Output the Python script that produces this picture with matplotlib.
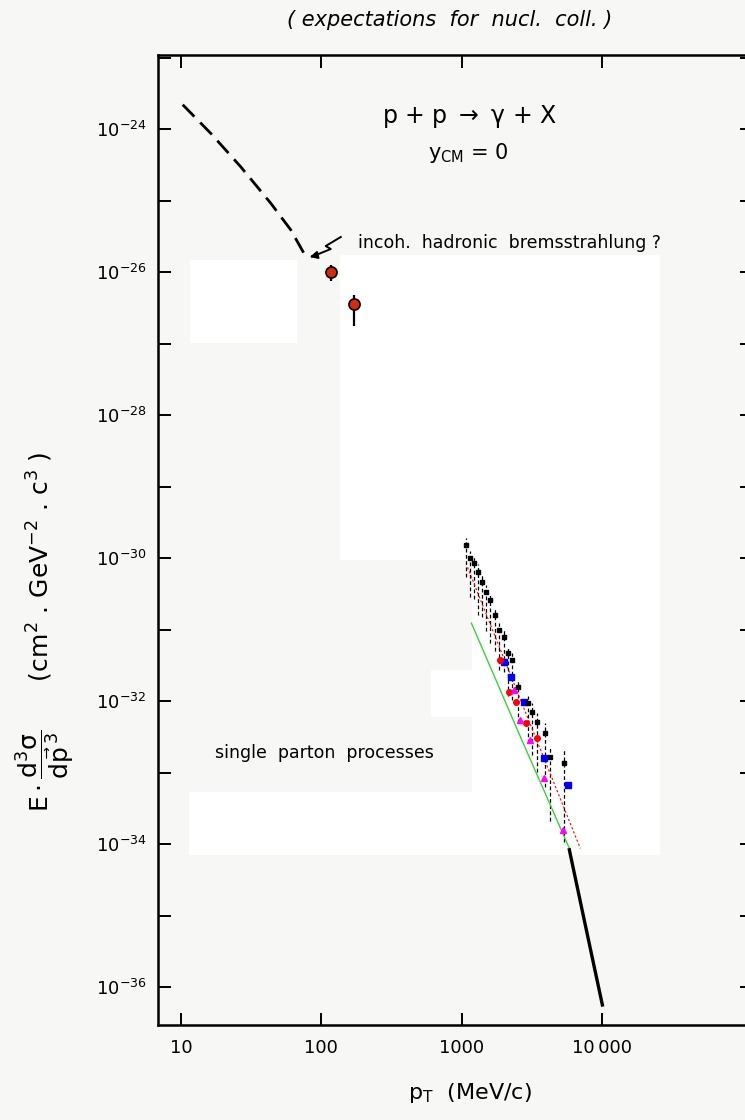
import numpy as np
import matplotlib
matplotlib.use("Agg")
import matplotlib.pyplot as plt
from matplotlib.patches import Rectangle

# ---- data ----
# incoherent hadronic bremsstrahlung expectation (dashed)
brems_pt = [10.3, 16.3, 26.7, 43.7, 60.5, 75.2]
brems_y = [10**-23.66, 10**-24.06, 10**-24.53, 10**-25.04, 10**-25.41, 10**-25.74]

# low pT measured points (red circles)
low_pt = [118, 172]
low_y = [10**-26.00, 10**-26.45]
low_err_lo = [10**-26.00 - 10**-26.12, 10**-26.45 - 10**-26.76]
low_err_hi = [10**-25.90 - 10**-26.00, 10**-26.32 - 10**-26.45]

# high pT data (overlaid points)
blk_pt = [1072, 1151, 1216, 1297, 1393, 1496, 1596, 1714, 1849, 1986,
          2118, 2291, 2495, 2938, 3177, 3428, 3881, 4217, 5297]
blk_y = [10**-29.82, 10**-30.00, 10**-30.07, 10**-30.19, 10**-30.33, 10**-30.47,
         10**-30.59, 10**-30.80, 10**-31.01, 10**-31.10, 10**-31.33, 10**-31.43,
         10**-31.80, 10**-32.03, 10**-32.15, 10**-32.29, 10**-32.45, 10**-32.78,
         10**-32.87]
blk_lo = [0.45, 0.55, 0.5, 0.6, 0.5, 0.55, 0.6, 0.5, 0.55, 0.5,
          0.6, 0.55, 0.5, 0.55, 0.6, 0.7, 0.75, 0.9, 1.1]   # decades
blk_hi = [0.1, 0.1, 0.1, 0.1, 0.1, 0.1, 0.1, 0.1, 0.1, 0.1,
          0.1, 0.1, 0.1, 0.1, 0.12, 0.12, 0.15, 0.15, 0.2]

blue_pt = [2009, 2254, 2754, 3819, 5662]
blue_y = [10**-31.46, 10**-31.66, 10**-32.01, 10**-32.79, 10**-33.17]
red_pt = [1879, 2178, 2427, 2851, 3428]
red_y = [10**-31.42, 10**-31.88, 10**-32.01, 10**-32.30, 10**-32.51]
mag_pt = [2339, 2612, 3041, 3819, 5248]
mag_y = [10**-31.85, 10**-32.26, 10**-32.54, 10**-33.08, 10**-33.80]

# theory lines
red_line_pt = [1097, 2760, 6970]
red_line_y = [10**-30.13, 10**-32.10, 10**-34.06]
green_line_pt = [1169, 2610, 5820]
green_line_y = [10**-30.91, 10**-32.50, 10**-34.06]
parton_pt = [5820, 7650, 10000]
parton_y = [10**-34.08, 10**-35.18, 10**-36.25]

paper = "#f7f7f6"
W, H = 745, 1120


def fx(px):
    return px / W


def fy(py):
    return 1 - py / H


fig = plt.figure(figsize=(7.45, 11.2), dpi=100, facecolor=paper)

# white erased patches of the scan
for x0, y0, x1, y1 in [(190, 260, 297, 343), (340, 255, 660, 560),
                       (472, 555, 660, 855), (431, 670, 480, 717),
                       (189, 792, 500, 855)]:
    fig.add_artist(Rectangle((fx(x0), fy(y1)), fx(x1 - x0), (y1 - y0) / H,
                             transform=fig.transFigure, facecolor="white",
                             edgecolor="none", zorder=-1))

ax = fig.add_axes([fx(158), fy(1025), fx(594), 970 / H])
ax.set_facecolor("none")
ax.set_xscale("log")
ax.set_yscale("log")
ax.set_xlim(10**0.837, 10**5.065)
ax.set_ylim(10**-36.53, 10**-22.965)

for s in ax.spines.values():
    s.set_linewidth(1.8)

ax.set_xticks([10, 100, 1000, 10000])
ax.set_xticklabels(["10", "100", "1000", "10\u2009000"])
ax.minorticks_off()
yt = [10.0**e for e in range(-36, -22)]
ax.set_yticks(yt)
ax.set_yticklabels([r"$\mathregular{10^{%d}}$" % e if e % 2 == 0 else ""
                    for e in range(-36, -22)])
ax.tick_params(direction="in", length=9, width=1.4, top=True, right=True,
               labelsize=13, pad=10)
ax.tick_params(axis="y", pad=8)

# bremsstrahlung curve
ax.plot(brems_pt, brems_y, color="black", lw=2, ls=(0, (6, 3)))

# low pT points
ax.errorbar(low_pt, low_y, yerr=[low_err_lo, low_err_hi], fmt="o", ms=8,
            mfc="#d42a10", mec="black", mew=1.2, ecolor="black", elinewidth=1.6,
            capsize=0, zorder=5)

# lightning arrow (zigzag in pixel offsets from the tip)
tip_x, tip_y = 82.6, 10**-25.79
zig = np.array([[31, 20], [16, 11], [21, 8], [4, 1]])
tip = ax.transData.transform((tip_x, tip_y))
pts = ax.transData.inverted().transform(tip + zig)
ax.plot(pts[:, 0], pts[:, 1], color="black", lw=1.4)
ax.annotate("", xy=(tip_x, tip_y), xytext=(pts[-1, 0], pts[-1, 1]),
            arrowprops=dict(arrowstyle="-|>", color="black", lw=1.4,
                            mutation_scale=11, shrinkA=0, shrinkB=0))

# high pT data
blk_y_arr = np.array(blk_y)
eb = ax.errorbar(blk_pt, blk_y,
                 yerr=[blk_y_arr - blk_y_arr * 10**-np.array(blk_lo),
                       blk_y_arr * 10**np.array(blk_hi) - blk_y_arr],
                 fmt="s", ms=2.5, color="black", elinewidth=0.9, capsize=0)
eb[2][0].set_linestyle((0, (3, 2)))
ax.plot(red_line_pt, red_line_y, color="red", lw=0.8, ls=(0, (2, 2)))
ax.plot(green_line_pt, green_line_y, color="#3ccf3c", lw=1.0)
ax.plot(blue_pt, blue_y, "s", color="blue", ms=4)
ax.plot(red_pt, red_y, "o", color="red", ms=4)
ax.plot(mag_pt, mag_y, "^", color="magenta", ms=4)
ax.plot(parton_pt, parton_y, color="black", lw=2.4)

# texts
fig.text(fx(470), fy(117), r"p + p $\rightarrow$ $\mathregular{\gamma}$ + X",
         ha="center", va="center", fontsize=17)
fig.text(fx(468), fy(153), r"$\mathregular{y_{CM}}$ = 0", ha="center",
         va="center", fontsize=15)
fig.text(fx(358), fy(243), "incoh.  hadronic  bremsstrahlung ?", ha="left",
         va="center", fontsize=12.5)
fig.text(fx(215), fy(753), "single  parton  processes", ha="left",
         va="center", fontsize=12.5)
fig.text(fx(450), fy(20), "( expectations  for  nucl.  coll. )", ha="center",
         va="center", fontsize=15, style="italic")
fig.text(fx(470), fy(1093), r"$\mathregular{p_T}$  (MeV/c)", ha="center",
         va="center", fontsize=16)
fig.text(fx(45), fy(632),
         r"$\mathregular{E\cdot\dfrac{d^3\sigma}{d\vec{p}^{\,3}}}$"
         r"      (cm$^{\mathregular{2}}$ . GeV$^{\mathregular{-2}}$ . c$^{\mathregular{3}}$ )",
         ha="center", va="center", rotation=90, fontsize=18)

fig.savefig("out.png", dpi=100, facecolor=paper)
